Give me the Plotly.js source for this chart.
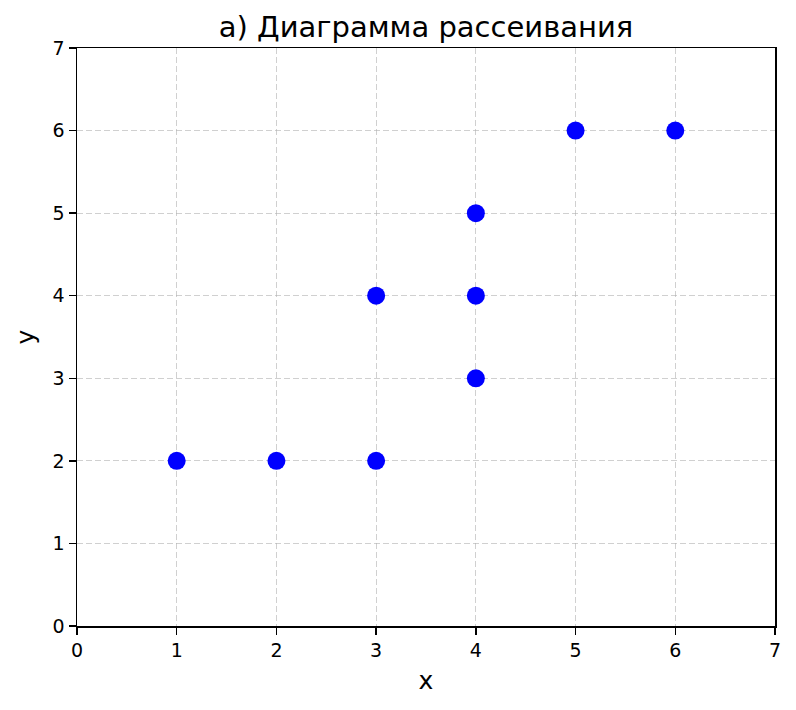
<!DOCTYPE html>
<html>
<head>
<meta charset="utf-8">
<script src="https://cdn.plot.ly/plotly-3.0.1.min.js"></script>
<style>html,body{margin:0;padding:0;background:#fff;}#chart{width:796px;height:710px;}</style>
</head>
<body>
<div id="chart"></div>
<script>
const xValues = [1, 2, 3, 3, 4, 4, 4, 5, 6];
const yValues = [2, 2, 2, 4, 3, 4, 5, 6, 6];
const tickVals = [0, 1, 2, 3, 4, 5, 6, 7];
const chartTitle = "а) Диаграмма рассеивания";

const axisCommon = {
  range: [0, 7],
  tickvals: tickVals,
  showgrid: true,
  gridcolor: "rgba(176,176,176,0.6)",
  griddash: "6px,3px",
  gridwidth: 1.2,
  zeroline: false,
  showline: true,
  linecolor: "black",
  linewidth: 1.5,
  mirror: true,
  ticks: "outside",
  ticklen: 7,
  tickwidth: 1.5,
  tickcolor: "black",
  tickfont: {family: "DejaVu Sans", size: 19, color: "black"}
};

Plotly.newPlot("chart", [{
  x: xValues,
  y: yValues,
  type: "scatter",
  mode: "markers",
  marker: {color: "#0000ff", size: 18},
  hoverinfo: "none",
  cliponaxis: false
}], {
  width: 796,
  height: 710,
  margin: {l: 77, r: 21, t: 48, b: 84},
  paper_bgcolor: "white",
  plot_bgcolor: "white",
  showlegend: false,
  title: {text: chartTitle, font: {family: "DejaVu Sans", size: 29, color: "black"}, xref: "paper", x: 0.5, xanchor: "center", y: 0.962, yanchor: "middle"},
  xaxis: Object.assign({}, axisCommon, {title: {text: "x", font: {family: "DejaVu Sans", size: 25, color: "black"}, standoff: 11}}),
  yaxis: Object.assign({}, axisCommon, {title: {text: "y", font: {family: "DejaVu Sans", size: 25, color: "black"}, standoff: 11}})
}, {staticPlot: true});
</script>
</body>
</html>
